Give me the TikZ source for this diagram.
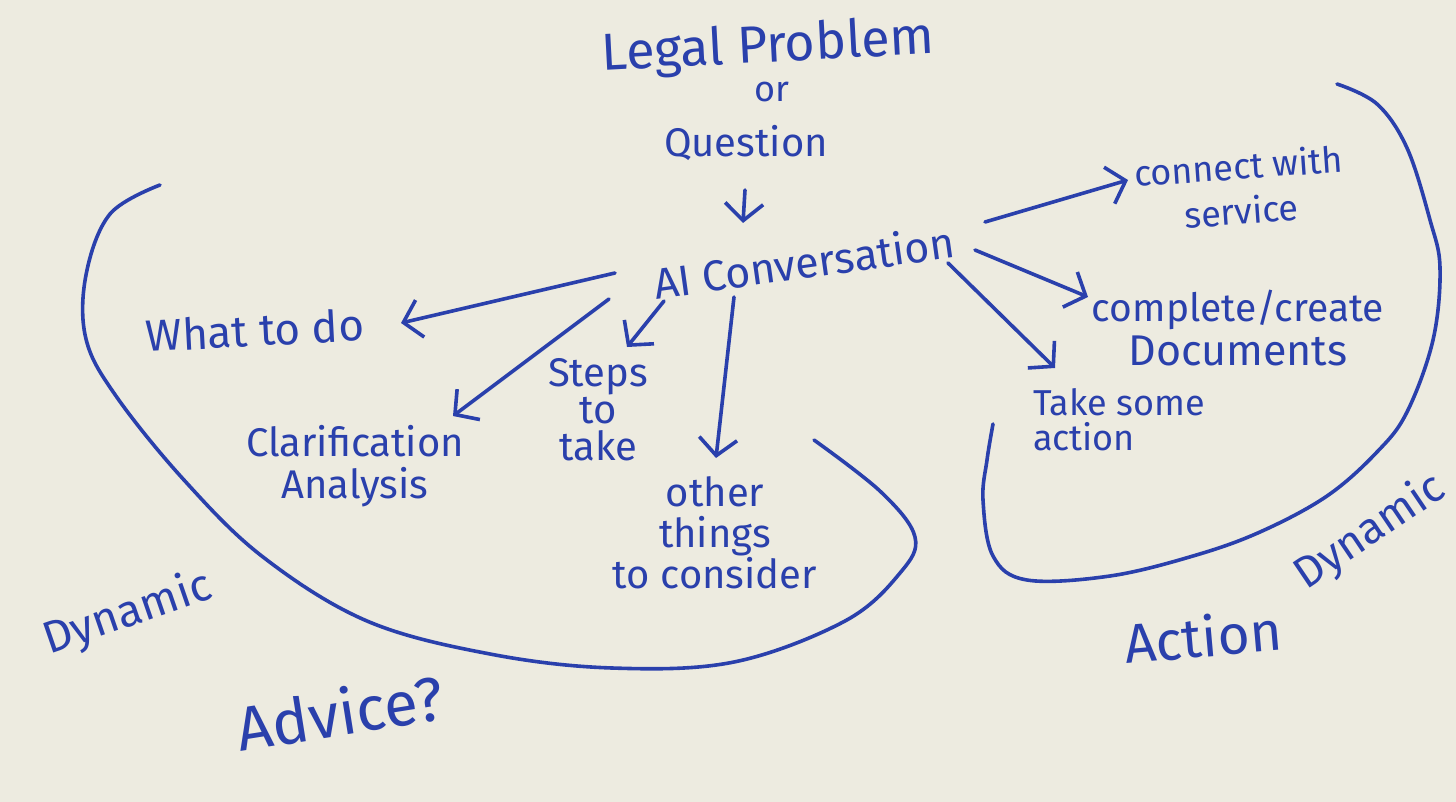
\documentclass[tikz,border=0pt]{standalone}
\usepackage{fontspec}
\setmainfont{Fira Sans}
\usetikzlibrary{arrows.meta}
\definecolor{paper}{RGB}{237,235,224}
\definecolor{ink}{RGB}{42,64,172}
\newcommand\hsz[2]{\fontsize{#1}{#2}\selectfont}
\begin{document}
\begin{tikzpicture}[x=1pt,y=-1pt,
  lbl/.style={text=ink, inner sep=0pt, align=center},
  arr/.style={draw=ink, line width=3.6pt, line cap=round, line join=round, -{Straight Barb[length=17pt,width=38pt]}},
  loopline/.style={draw=ink, line width=3.6pt, line cap=round, line join=round}]
\fill[paper] (0,0) rectangle (1456,802);
\useasboundingbox (0,0) rectangle (1456,802);

% labels
\node[lbl, font=\hsz{52}{56}, rotate=3] (legal) at (768,48) {Legal Problem};
\node[lbl, font=\hsz{36}{40}] (or) at (772,92) {or};
\node[lbl, font=\hsz{40}{44}] (question) at (746,143) {Question};
\node[lbl, font=\hsz{43}{48}, rotate=8] (ai) at (804,262) {AI Conversation};
\node[lbl, font=\hsz{44}{48}, rotate=3] (what) at (255,330) {What to do};
\node[lbl, font=\hsz{40}{42}] (clar) at (355,466) {Clarification\\Analysis};
\node[lbl, font=\hsz{40}{37}] (steps) at (598,410) {Steps\\to\\take};
\node[lbl, font=\hsz{40}{41}] (other) at (715,533) {other\\things\\to consider};
\node[lbl, font=\hsz{36}{45}, rotate=4] (connect) at (1240,188) {connect with\\service};
\node[lbl, font=\hsz{39}{44}] (complete) at (1238,328) {complete/create\\\hsz{43}{44}Documents};
\node[lbl, font=\hsz{36}{35}, align=left] (take) at (1119,420) {Take some\\action};
\node[lbl, font=\hsz{45}{50}, rotate=19] (dynL) at (128,614) {Dynamic};
\node[lbl, font=\hsz{62}{64}, rotate=9] (advice) at (340,712) {Advice?};
\node[lbl, font=\hsz{44}{50}, rotate=34] (dynR) at (1370,532) {Dynamic};
\node[lbl, font=\hsz{55}{60}, rotate=5] (action) at (1203,636) {Action};

% connectors
\draw[arr] ([shift={(-1,47)}]question.center) -- ([shift={(-61,-39)}]ai.center);
\draw[arr] ([shift={(-189,11)}]ai.center) -- ([shift={(146,-7)}]what.center);
\draw[arr] ([shift={(-195,37)}]ai.center) -- ([shift={(98,-50)}]clar.center);
\draw[arr] ([shift={(-140,39)}]ai.center) -- ([shift={(29,-63)}]steps.center);
\draw[arr] ([shift={(-70,35)}]ai.center) -- ([shift={(1,-75)}]other.center);
\draw[arr] ([shift={(181,-40)}]ai.center) -- ([shift={(-112,-8)}]connect.center);
\draw[arr] ([shift={(171,-12)}]ai.center) -- ([shift={(-150,-31)}]complete.center);
\draw[arr] ([shift={(144,1)}]ai.center) -- ([shift={(-64,-52)}]take.center);

% enclosing loops
\draw[loopline] plot[smooth, tension=0.6] coordinates {(160,185) (110,214) (86,275) (86,339) (116,396) (184,480) (263,557) (367,621) (490,654) (612,668) (734,662) (845,621) (900,573) (915,537) (881,492) (814,440)};
\draw[loopline] plot[smooth, tension=0.6] coordinates {(1337,84) (1377,104) (1407,148) (1430,220) (1440,268) (1433,340) (1407,412) (1377,452) (1327,496) (1260,532) (1193,556) (1110,576) (1027,580) (993,556) (983,500) (987,460) (993,424)};
\end{tikzpicture}
\end{document}
